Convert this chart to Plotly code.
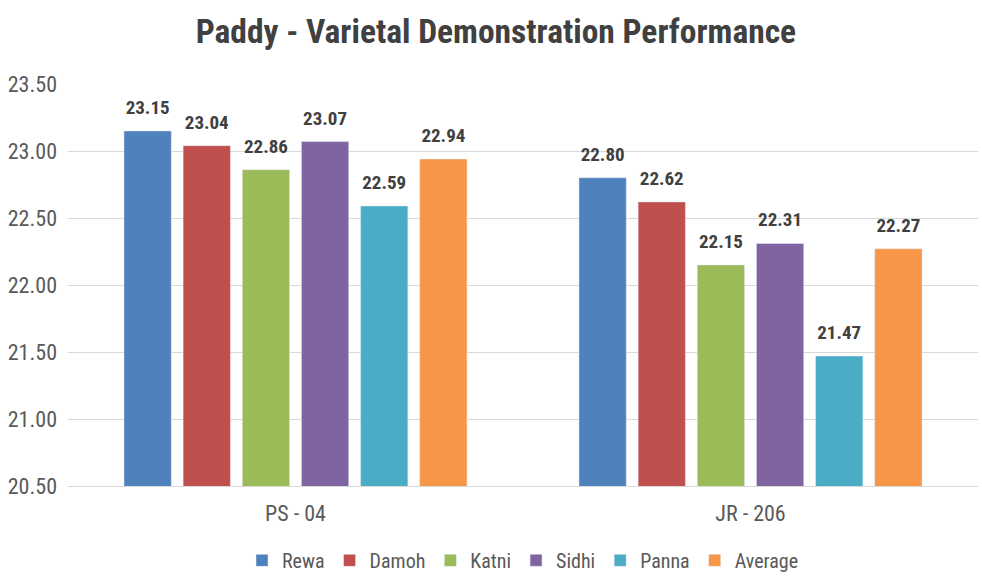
import plotly.graph_objects as go

categories = ["PS - 04", "JR - 206"]
series_names = ["Rewa", "Damoh", "Katni", "Sidhi", "Panna", "Average"]
rewa = [23.15, 22.80]
damoh = [23.04, 22.62]
katni = [22.86, 22.15]
sidhi = [23.07, 22.31]
panna = [22.59, 21.47]
average = [22.94, 22.27]
colors = ["#4F81BD", "#C0504D", "#9BBB59", "#8064A2", "#4BACC6", "#F79646"]
tick_vals = [20.5, 21.0, 21.5, 22.0, 22.5, 23.0, 23.5]

FONT = "Liberation Sans Narrow, Arial Narrow, Roboto Condensed, Liberation Sans, sans-serif"

fig = go.Figure()
for name, vals, col in zip(series_names, [rewa, damoh, katni, sidhi, panna, average], colors):
    fig.add_trace(go.Bar(
        name=name, x=categories, y=vals, marker_color=col, offsetgroup=name,
        hoverinfo="x+y+name",
    ))
for name, vals in zip(series_names, [rewa, damoh, katni, sidhi, panna, average]):
    fig.add_trace(go.Scatter(
        x=categories, y=vals, offsetgroup=name, mode="markers+text",
        marker=dict(size=18, opacity=0), showlegend=False, hoverinfo="skip",
        text=[f"<b>{v:.2f}</b>" for v in vals], textposition="top center",
        textfont=dict(size=19, color="#404040", family=FONT),
        cliponaxis=False,
    ))

fig.update_layout(
    width=982, height=576,
    margin=dict(l=68, r=4, t=84, b=90, autoexpand=False),
    paper_bgcolor="white", plot_bgcolor="white",
    barmode="group", bargap=0.22, bargroupgap=0.2,
    scattermode="group", scattergap=0.22,
    title=dict(text="<b>Paddy - Varietal Demonstration Performance</b>",
               x=0.505, xanchor="center", y=0.945, yanchor="middle",
               font=dict(size=33.5, color="#404040", family=FONT)),
    font=dict(family=FONT, color="#595959"),
    legend=dict(orientation="h", x=0.5, xanchor="center", y=-0.185, yanchor="middle",
                font=dict(size=20, color="#595959", family=FONT),
                itemwidth=30, traceorder="normal"),
    showlegend=True,
)
fig.update_yaxes(range=[20.5, 23.5], tickvals=tick_vals, ticktext=[f"{v:.2f}" for v in tick_vals],
                 showgrid=True, gridcolor="#D9D9D9", gridwidth=1, zeroline=False, automargin=False,
                 tickfont=dict(size=22, color="#595959", family=FONT), ticks="", ticklabelstandoff=10,
                 showline=False)
fig.update_xaxes(showline=True, linecolor="#D9D9D9", automargin=False,
                 tickfont=dict(size=22, color="#595959", family=FONT),
                 ticks="", ticklabelstandoff=8)

fig.write_html("out.html", config={"displayModeBar": False},
               post_script="document.body.style.margin='0';")
